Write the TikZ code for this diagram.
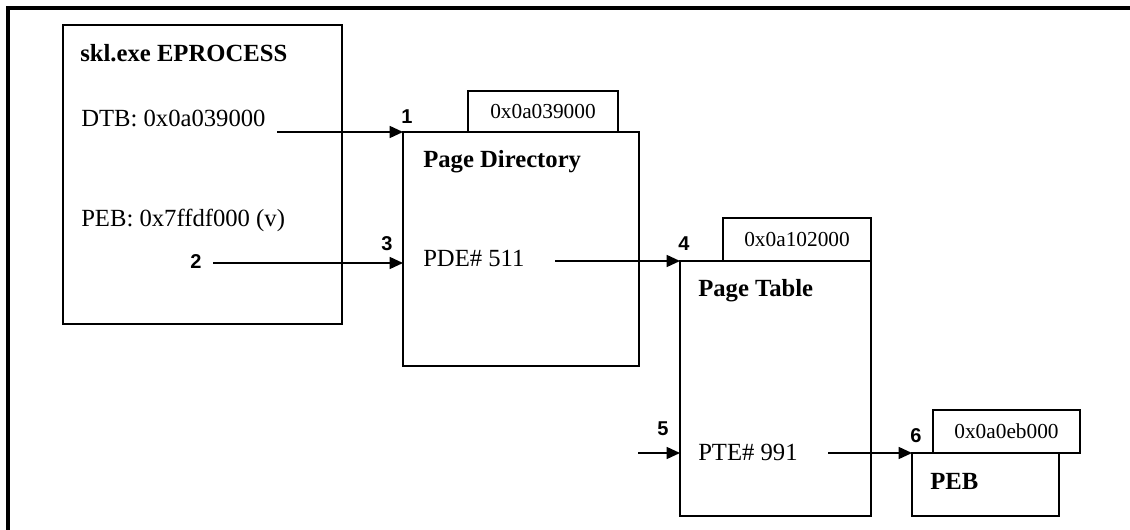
\documentclass[tikz,border=0pt]{standalone}
\usepackage{fontspec}
\setmainfont{Liberation Serif}
\newfontfamily\numfont{Liberation Sans}
\usetikzlibrary{arrows.meta}
\tikzset{
  box/.style={draw, line width=1.5pt, fill=white, inner sep=0pt, outer sep=0pt},
  tab/.style={draw, line width=1.5pt, fill=white, inner sep=0pt, outer sep=0pt, font=\fontsize{16pt}{18pt}\selectfont},
  lbl/.style={anchor=base west, inner sep=0pt, font=\fontsize{18.5pt}{21pt}\selectfont},
  blbl/.style={anchor=base west, inner sep=0pt, font=\fontsize{18.5pt}{21pt}\selectfont\bfseries},
  num/.style={inner sep=0pt, font=\numfont\fontsize{15pt}{17pt}\selectfont\bfseries},
  conn/.style={line width=1.1pt, -{Triangle[length=10pt,width=9pt]}},
}
\begin{document}
\begin{tikzpicture}[x=0.75pt,y=-0.75pt]
\useasboundingbox (0,0) rectangle (1130,530);
% outer frame (top and left visible)
\draw[line width=2.4pt] (8,530) -- (8,8) -- (1130,8);

% boxes
\node[box, minimum width=279*0.75pt, minimum height=299*0.75pt] (ep) at (202.5,174.5) {};
\node[tab, minimum width=150*0.75pt, minimum height=41*0.75pt] (pdtab) at (543,111.5) {0x0a039000};
\node[box, minimum width=236*0.75pt, minimum height=234*0.75pt] (pd) at (521,249) {};
\node[tab, minimum width=148*0.75pt, minimum height=43*0.75pt] (pttab) at (797,239.5) {0x0a102000};
\node[box, minimum width=191*0.75pt, minimum height=255*0.75pt] (pt) at (775.5,388.5) {};
\node[tab, minimum width=147*0.75pt, minimum height=43*0.75pt] (pebtab) at (1006.5,431.5) {0x0a0eb000};
\node[box, minimum width=147*0.75pt, minimum height=63*0.75pt] (peb) at (985.5,484.5) {};

% texts
\node[blbl] (eptitle) at (80,62) {skl.exe EPROCESS};
\node[lbl] (dtb) at (81,127) {DTB: 0x0a039000};
\node[lbl] (pebv) at (81,227) {PEB: 0x7ffdf000 (v)};
\node[blbl] (pdtitle) at (423,168) {Page Directory};
\node[lbl] (pde) at (423,267) {PDE\# 511};
\node[blbl] (pttitle) at (698,297) {Page Table};
\node[lbl] (pte) at (698,460) {PTE\# 991};
\node[blbl] (pebtitle) at (930,489) {PEB};

% numbers
\node[num] (n1) at (407,117) {1};
\node[num] (n2) at (196,262) {2};
\node[num] (n3) at (387,244) {3};
\node[num] (n4) at (684,244) {4};
\node[num] (n5) at (663,429) {5};
\node[num] (n6) at (916,436) {6};

% connector start points
\coordinate (s1) at (277,132);
\coordinate (s2) at (213,263);
\coordinate (s3) at (555,261);
\coordinate (s5) at (638,453);
\coordinate (s6) at (828,453);

\draw[conn] (s1) -- (pd.north west);
\draw[conn] (s2) -- (s2 -| pd.west);
\draw[conn] (s3) -- (pt.north west);
\draw[conn] (s5) -- (s5 -| pt.west);
\draw[conn] (s6) -- (peb.north west);
\end{tikzpicture}
\end{document}
